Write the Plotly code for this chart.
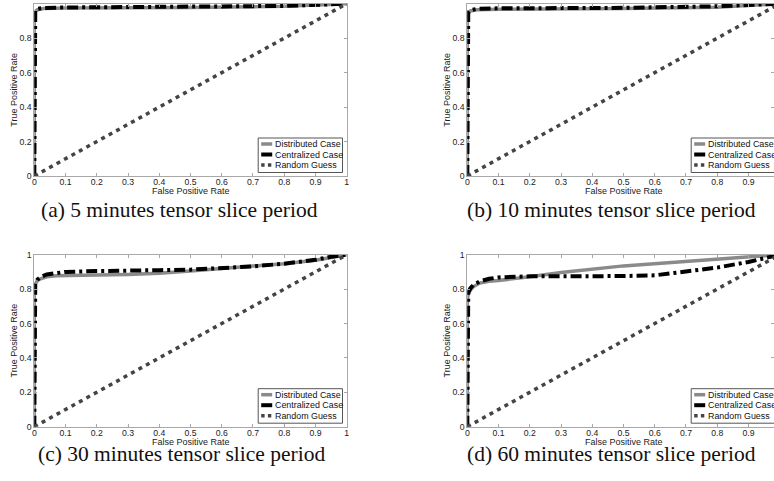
import plotly.graph_objects as go

W, H = 774, 481

# ---------------- data ----------------
x_ticks = [0, 0.1, 0.2, 0.3, 0.4, 0.5, 0.6, 0.7, 0.8, 0.9, 1]
x_ticktext = ["0", "0.1", "0.2", "0.3", "0.4", "0.5", "0.6", "0.7", "0.8", "0.9", "1"]
y_ticks = [0, 0.2, 0.4, 0.6, 0.8, 1]
y_ticktext = ["0", "0.2", "0.4", "0.6", "0.8", "1"]

x_title = "False Positive Rate"
y_title = "True Positive Rate"
series_names = ["Distributed Case", "Centralized Case", "Random Guess"]
captions = ["(a) 5 minutes tensor slice period", "(b) 10 minutes tensor slice period",
            "(c) 30 minutes tensor slice period", "(d) 60 minutes tensor slice period"]

random_fpr = [0, 1]
random_tpr = [0, 1]

# (a) 5 minutes
a_dist_fpr = [0, 0, 0.003, 0.01, 0.03, 0.1, 0.5, 0.8, 1]
a_dist_tpr = [0, 0.93, 0.955, 0.965, 0.972, 0.975, 0.978, 0.985, 1]
a_cent_fpr = [0, 0, 0.003, 0.01, 0.03, 0.1, 0.5, 0.8, 1]
a_cent_tpr = [0, 0.94, 0.96, 0.97, 0.975, 0.978, 0.98, 0.987, 1]

# (b) 10 minutes
b_dist_fpr = [0, 0, 0.003, 0.01, 0.03, 0.1, 0.5, 0.8, 1]
b_dist_tpr = [0, 0.92, 0.945, 0.958, 0.965, 0.968, 0.972, 0.98, 1]
b_cent_fpr = [0, 0, 0.003, 0.01, 0.03, 0.1, 0.5, 0.8, 0.95, 1]
b_cent_tpr = [0, 0.93, 0.95, 0.962, 0.97, 0.973, 0.976, 0.985, 0.995, 1]

# (c) 30 minutes
c_dist_fpr = [0, 0, 0.003, 0.01, 0.02, 0.04, 0.07, 0.1, 0.2, 0.3, 0.4, 0.5, 0.6, 0.7, 0.8, 0.9, 0.95, 1]
c_dist_tpr = [0, 0.8, 0.83, 0.85, 0.86, 0.872, 0.878, 0.88, 0.882, 0.885, 0.892, 0.905, 0.918, 0.932, 0.948, 0.968, 0.985, 1]
c_cent_fpr = [0, 0, 0.003, 0.01, 0.02, 0.04, 0.07, 0.1, 0.2, 0.3, 0.4, 0.5, 0.6, 0.7, 0.8, 0.9, 0.95, 1]
c_cent_tpr = [0, 0.8, 0.83, 0.855, 0.87, 0.885, 0.895, 0.9, 0.905, 0.91, 0.91, 0.913, 0.92, 0.932, 0.948, 0.97, 0.988, 1]

# (d) 60 minutes
d_dist_fpr = [0, 0, 0.003, 0.01, 0.02, 0.04, 0.07, 0.1, 0.2, 0.3, 0.5, 0.7, 0.8, 0.9, 1]
d_dist_tpr = [0, 0.74, 0.77, 0.795, 0.815, 0.835, 0.845, 0.85, 0.872, 0.897, 0.935, 0.962, 0.975, 0.988, 1]
d_cent_fpr = [0, 0, 0.003, 0.01, 0.02, 0.04, 0.07, 0.1, 0.15, 0.2, 0.3, 0.4, 0.5, 0.6, 0.7, 0.8, 0.9, 0.95, 1]
d_cent_tpr = [0, 0.75, 0.78, 0.805, 0.825, 0.845, 0.86, 0.868, 0.872, 0.874, 0.874, 0.874, 0.876, 0.88, 0.9, 0.925, 0.958, 0.978, 1]

panels = [
    (a_dist_fpr, a_dist_tpr, a_cent_fpr, a_cent_tpr),
    (b_dist_fpr, b_dist_tpr, b_cent_fpr, b_cent_tpr),
    (c_dist_fpr, c_dist_tpr, c_cent_fpr, c_cent_tpr),
    (d_dist_fpr, d_dist_tpr, d_cent_fpr, d_cent_tpr),
]

# ---------------- layout geometry (pixels) ----------------
UNIT = 312.4                          # pixels per 1.0 on x
LEFT0 = [34.3, 467.3, 34.3, 467.3]    # pixel of x = 0
TOP = [3.7, 3.7, 254.7, 254.7]        # pixel of y = 1
BOT = [176.0, 176.0, 426.7, 426.7]    # pixel of y = 0
CAP_X = [179.0, 611.5, 181.0, 611.5]
CAP_Y = [210.0, 210.0, 454.0, 454.0]

DIST_COLOR = "#8a8a8a"
CENT_COLOR = "#000000"
RAND_COLOR = "#444444"
FRAME = "#a8a8a8"
SANS = "Liberation Sans, Arial, sans-serif"
SERIF = "Liberation Serif, Times New Roman, serif"


def px(xp):
    return xp / W


def py(yp):
    return 1 - yp / H


fig = go.Figure()
layout = dict(
    width=W, height=H, margin=dict(l=0, r=0, t=0, b=0),
    paper_bgcolor="white", plot_bgcolor="white", showlegend=False,
    shapes=[], annotations=[],
)

for i, (dfx, dfy, cfx, cfy) in enumerate(panels):
    n = "" if i == 0 else str(i + 1)
    xa, ya = "x" + n, "y" + n
    right_px = LEFT0[i] + UNIT
    x_end_px = min(right_px, W)
    xmax = (x_end_px - LEFT0[i]) / UNIT
    fig.add_trace(go.Scatter(x=dfx, y=dfy, mode="lines", name=series_names[0],
                             line=dict(color=DIST_COLOR, width=3.5), xaxis=xa, yaxis=ya))
    fig.add_trace(go.Scatter(x=cfx, y=cfy, mode="lines", name=series_names[1],
                             line=dict(color=CENT_COLOR, width=4, dash="11px,4px,3px,4px"),
                             xaxis=xa, yaxis=ya))
    fig.add_trace(go.Scatter(x=random_fpr, y=random_tpr, mode="lines", name=series_names[2],
                             line=dict(color=RAND_COLOR, width=3.5, dash="4px,4.5px"),
                             xaxis=xa, yaxis=ya))
    common = dict(ticks="inside", ticklen=3, tickcolor=FRAME, showline=True, linecolor=FRAME,
                  linewidth=1, mirror="ticks", showgrid=False, zeroline=False,
                  tickfont=dict(family=SANS, size=8.7, color="#222"), automargin=False,
                  fixedrange=True)
    layout["xaxis" + n] = dict(
        domain=[px(LEFT0[i]), px(x_end_px)], range=[0, xmax], anchor=ya,
        tickmode="array", tickvals=x_ticks, ticktext=x_ticktext, ticklabelstandoff=-2, **common)
    layout["yaxis" + n] = dict(
        domain=[py(BOT[i]), py(TOP[i])], range=[0, 1], anchor=xa,
        tickmode="array", tickvals=y_ticks, ticktext=y_ticktext, **common)

    # axis titles
    layout["annotations"].append(dict(text=x_title, xref=xa, yref="paper", x=0.5, y=py(BOT[i] + 15.2),
                                      xanchor="center", yanchor="middle", showarrow=False,
                                      font=dict(family=SANS, size=9, color="#222")))
    layout["annotations"].append(dict(text=y_title, xref="paper", yref=ya, x=px(LEFT0[i] - 20.5), y=0.5,
                                      xanchor="center", yanchor="middle", showarrow=False, textangle=-90,
                                      font=dict(family=SANS, size=9, color="#222")))

    # legend box (drawn in pixel space)
    R, B = right_px, BOT[i]
    layout["shapes"].append(dict(type="rect", xref="paper", yref="paper",
                                 x0=px(R - 88.5), x1=px(R - 4.2), y0=py(B - 3.5), y1=py(B - 38),
                                 line=dict(color="#555", width=1), fillcolor="white", layer="above"))
    rows = [B - 32, B - 21.5, B - 11]
    styles = [dict(color=DIST_COLOR, width=3.5), dict(color=CENT_COLOR, width=4),
              dict(color=RAND_COLOR, width=3.5, dash="3.4px,3.3px")]
    for r, st, name in zip(rows, styles, series_names):
        layout["shapes"].append(dict(type="line", xref="paper", yref="paper",
                                     x0=px(R - 85.5), x1=px(R - 74.5), y0=py(r), y1=py(r),
                                     line=st, layer="above"))
        layout["annotations"].append(dict(text=name, xref="paper", yref="paper",
                                          x=px(R - 74.2), y=py(r), xanchor="left", yanchor="middle",
                                          showarrow=False, font=dict(family=SANS, size=8.9, color="#111")))
    layout["annotations"].append(dict(text=captions[i], xref="paper", yref="paper",
                                      x=px(CAP_X[i]), y=py(CAP_Y[i]), xanchor="center", yanchor="middle",
                                      showarrow=False, font=dict(family=SERIF, size=21.5, color="#111")))

fig.update_layout(**layout)
fig.write_html("out.html", config={"displayModeBar": False, "staticPlot": True},
               post_script="document.body.style.margin='0';document.body.style.overflow='hidden';")
